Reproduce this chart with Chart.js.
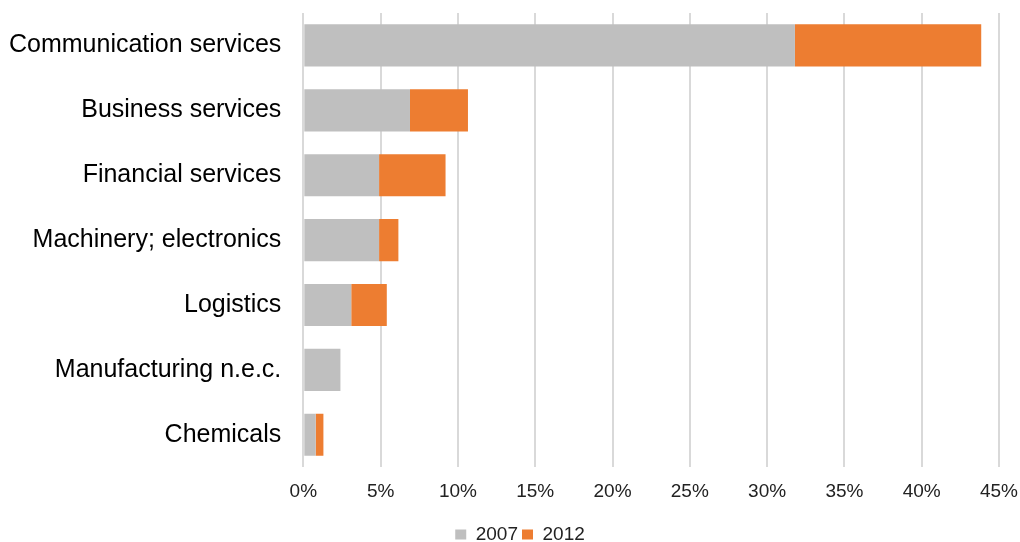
<!DOCTYPE html>
<html>
<head>
<meta charset="utf-8">
<script src="https://cdn.jsdelivr.net/npm/chart.js@4"></script>
<style>
  html, body { margin: 0; padding: 0; background: #fff; }
  #wrap { width: 1020px; height: 542px; }
</style>
</head>
<body>
<div id="wrap"><canvas id="chart"></canvas></div>
<script>
// Chart data
const categories = ['Communication services', 'Business services', 'Financial services',
  'Machinery; electronics', 'Logistics', 'Manufacturing n.e.c.', 'Chemicals'];
const values2007 = [31.8, 6.9, 4.9, 4.9, 3.1, 2.4, 0.8];
const values2012 = [12.05, 3.75, 4.3, 1.25, 2.3, 0, 0.5]; // stacked on top of 2007
const xTicks = [0, 5, 10, 15, 20, 25, 30, 35, 40, 45];

const ctx = document.getElementById('chart');

// nudge the legend a bit, chart.js puts it slightly too high / left
const legendNudge = {
  id: 'legendNudge',
  afterLayout(chart) {
    const lg = chart.legend;
    lg.left += 16; lg.right += 16;
    lg.top += 12; lg.bottom += 12;
  }
};

new Chart(ctx, {
  type: 'bar',
  data: {
    labels: categories,
    datasets: [
      { label: '2007', data: values2007, backgroundColor: '#bfbfbf' },
      { label: '2012', data: values2012, backgroundColor: '#ed7d31' }
    ]
  },
  plugins: [legendNudge],
  options: {
    indexAxis: 'y',
    responsive: true,
    maintainAspectRatio: false,
    animation: false,
    categoryPercentage: 1,
    barPercentage: 0.65,
    layout: { padding: { left: 9, right: 21, top: 13, bottom: 0 } },
    scales: {
      x: {
        stacked: true,
        min: 0,
        max: 45,
        afterBuildTicks: (axis) => { axis.ticks = xTicks.map(v => ({ value: v })); },
        afterFit: (axis) => { axis.height += 5; },
        // invisible tick marks only to push the labels down
        grid: { color: '#d9d9d9', lineWidth: 2, drawTicks: true, tickLength: 12, tickColor: 'rgba(0,0,0,0)' },
        border: { display: false },
        ticks: {
          padding: 1,
          color: '#222',
          font: { family: 'Liberation Sans, Arial, sans-serif', size: 19 },
          callback: (v) => v + '%'
        }
      },
      y: {
        stacked: true,
        grid: { display: false, drawTicks: true, tickLength: 22 },
        border: { display: false },
        ticks: {
          padding: 0,
          color: '#000',
          font: { family: 'Liberation Sans, Arial, sans-serif', size: 25, lineHeight: 1 }
        }
      }
    },
    plugins: {
      legend: {
        position: 'bottom',
        labels: {
          boxWidth: 11,
          boxHeight: 10,
          padding: 4,
          color: '#222',
          font: { family: 'Liberation Sans, Arial, sans-serif', size: 19 }
        }
      },
      tooltip: { enabled: false }
    }
  }
});
</script>
</body>
</html>
